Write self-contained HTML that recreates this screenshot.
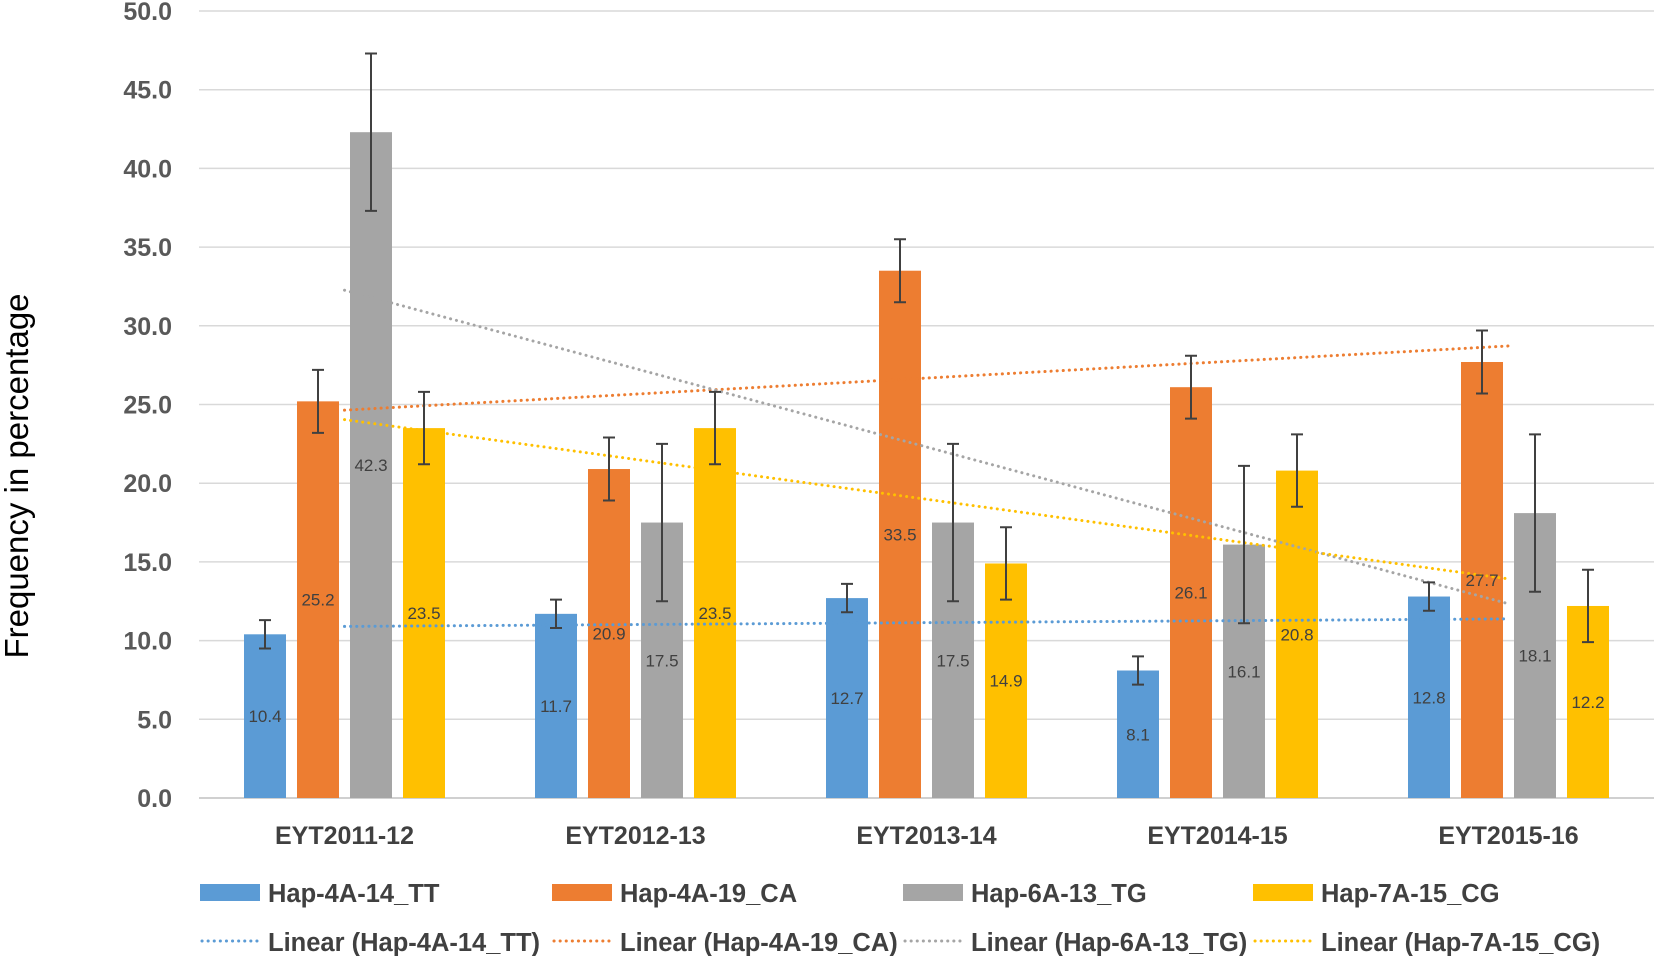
<!DOCTYPE html>
<html><head><meta charset="utf-8"><style>
html,body{margin:0;padding:0;background:#fff;}
svg{display:block;font-family:"Liberation Sans",sans-serif;}
</style></head><body>
<svg id="chart" width="1654" height="956" viewBox="0 0 1654 956"></svg>
<script>
const categories=["EYT2011-12","EYT2012-13","EYT2013-14","EYT2014-15","EYT2015-16"];
const seriesNames=["Hap-4A-14_TT","Hap-4A-19_CA","Hap-6A-13_TG","Hap-7A-15_CG"];
const valsTT=[10.4,11.7,12.7,8.1,12.8];
const valsCA=[25.2,20.9,33.5,26.1,27.7];
const valsTG=[42.3,17.5,17.5,16.1,18.1];
const valsCG=[23.5,23.5,14.9,20.8,12.2];
const errTT=[0.9,0.9,0.9,0.9,0.9];
const errCA=[2.0,2.0,2.0,2.0,2.0];
const errTG=[5.0,5.0,5.0,5.0,5.0];
const errCG=[2.3,2.3,2.3,2.3,2.3];
const yTicks=[0,5,10,15,20,25,30,35,40,45,50];

const colors=["#5b9bd5","#ed7d31","#a5a5a5","#ffc000"];
const allVals=[valsTT,valsCA,valsTG,valsCG];
const allErr=[errTT,errCA,errTG,errCG];
const NS="http://www.w3.org/2000/svg";
const svg=document.getElementById('chart');
const X0=199,X1=1654,Y0=798,YT=11,YMAX=50;
const catW=(X1-X0)/categories.length;
const y=v=>Y0-(v/YMAX)*(Y0-YT);
const cx=i=>X0+(i+0.5)*catW;
const barW=42,step=53;
function el(t,a,txt){const e=document.createElementNS(NS,t);for(const k in a)e.setAttribute(k,a[k]);if(txt!=null)e.textContent=txt;svg.appendChild(e);return e;}

yTicks.forEach(t=>{
  const g=el('line',{x1:X0,x2:X1,y1:y(t),y2:y(t),stroke:t===0?'#d0d0d0':'#d9d9d9','stroke-width':t===0?2:1.5});
  
  
  const l=el('text',{x:172,y:y(t)+9,'text-anchor':'end','font-size':25,'font-weight':'bold',fill:'#595959'},t.toFixed(1));
  
  
});
const yt=el('text',{transform:'translate(28,476) rotate(-90)','text-anchor':'middle','font-size':33,fill:'#000'},'Frequency in percentage');



categories.forEach((c,i)=>{
  const t=el('text',{x:cx(i),y:844,'text-anchor':'middle','font-size':25,'font-weight':'bold',fill:'#404040'},c);
  
  
  allVals.forEach((vals,s)=>{
    const bx=cx(i)-1.5*step+s*step-barW/2;
    const v=vals[i];
    const r=el('rect',{x:bx,y:y(v),width:barW,height:Y0-y(v),fill:colors[s]});
    
    
  });
});
allVals.forEach((vals,s)=>{
  const n=vals.length,mx=(n+1)/2;
  const my=vals.reduce((a,b)=>a+b,0)/n;
  let num=0,den=0;vals.forEach((v,k)=>{num+=(k+1-mx)*(v-my);den+=(k+1-mx)**2;});
  const sl=num/den,a=my-sl*mx;
  const ln=el('line',{x1:cx(0),y1:y(a+sl*1),x2:cx(n-1),y2:y(a+sl*n),stroke:colors[s],'stroke-width':3,'stroke-dasharray':'0.1 6','stroke-linecap':'round'});
  
  
});
categories.forEach((c,i)=>{
  allVals.forEach((vals,s)=>{
    const bc=cx(i)-1.5*step+s*step;
    const v=vals[i],e=allErr[s][i];
    const g=el('path',{d:`M${bc},${y(v+e)}V${y(v-e)}M${bc-6},${y(v+e)}h12M${bc-6},${y(v-e)}h12`,stroke:'#404040','stroke-width':2,fill:'none'});
    
    
    const t=el('text',{x:bc,y:y(v/2)+6,'text-anchor':'middle','font-size':17,fill:'#404040'},v.toFixed(1));
    
    
  });
});
const lx=[200,552,903,1253];
seriesNames.forEach((n,s)=>{
  const r=el('rect',{x:lx[s],y:884,width:60,height:17,fill:colors[s]});
  
  
  const t=el('text',{x:lx[s]+68,y:902,'font-size':25.5,fill:'#404040','font-weight':'600'},n);
  
  
  const l=el('line',{x1:lx[s]+2,x2:lx[s]+58,y1:941,y2:941,stroke:colors[s],'stroke-width':3,'stroke-dasharray':'0.1 6','stroke-linecap':'round'});
  
  
  const t2=el('text',{x:lx[s]+68,y:951,'font-size':25.5,fill:'#404040','font-weight':'600'},'Linear ('+n+')');
  
  
});
</script>
</body></html>
